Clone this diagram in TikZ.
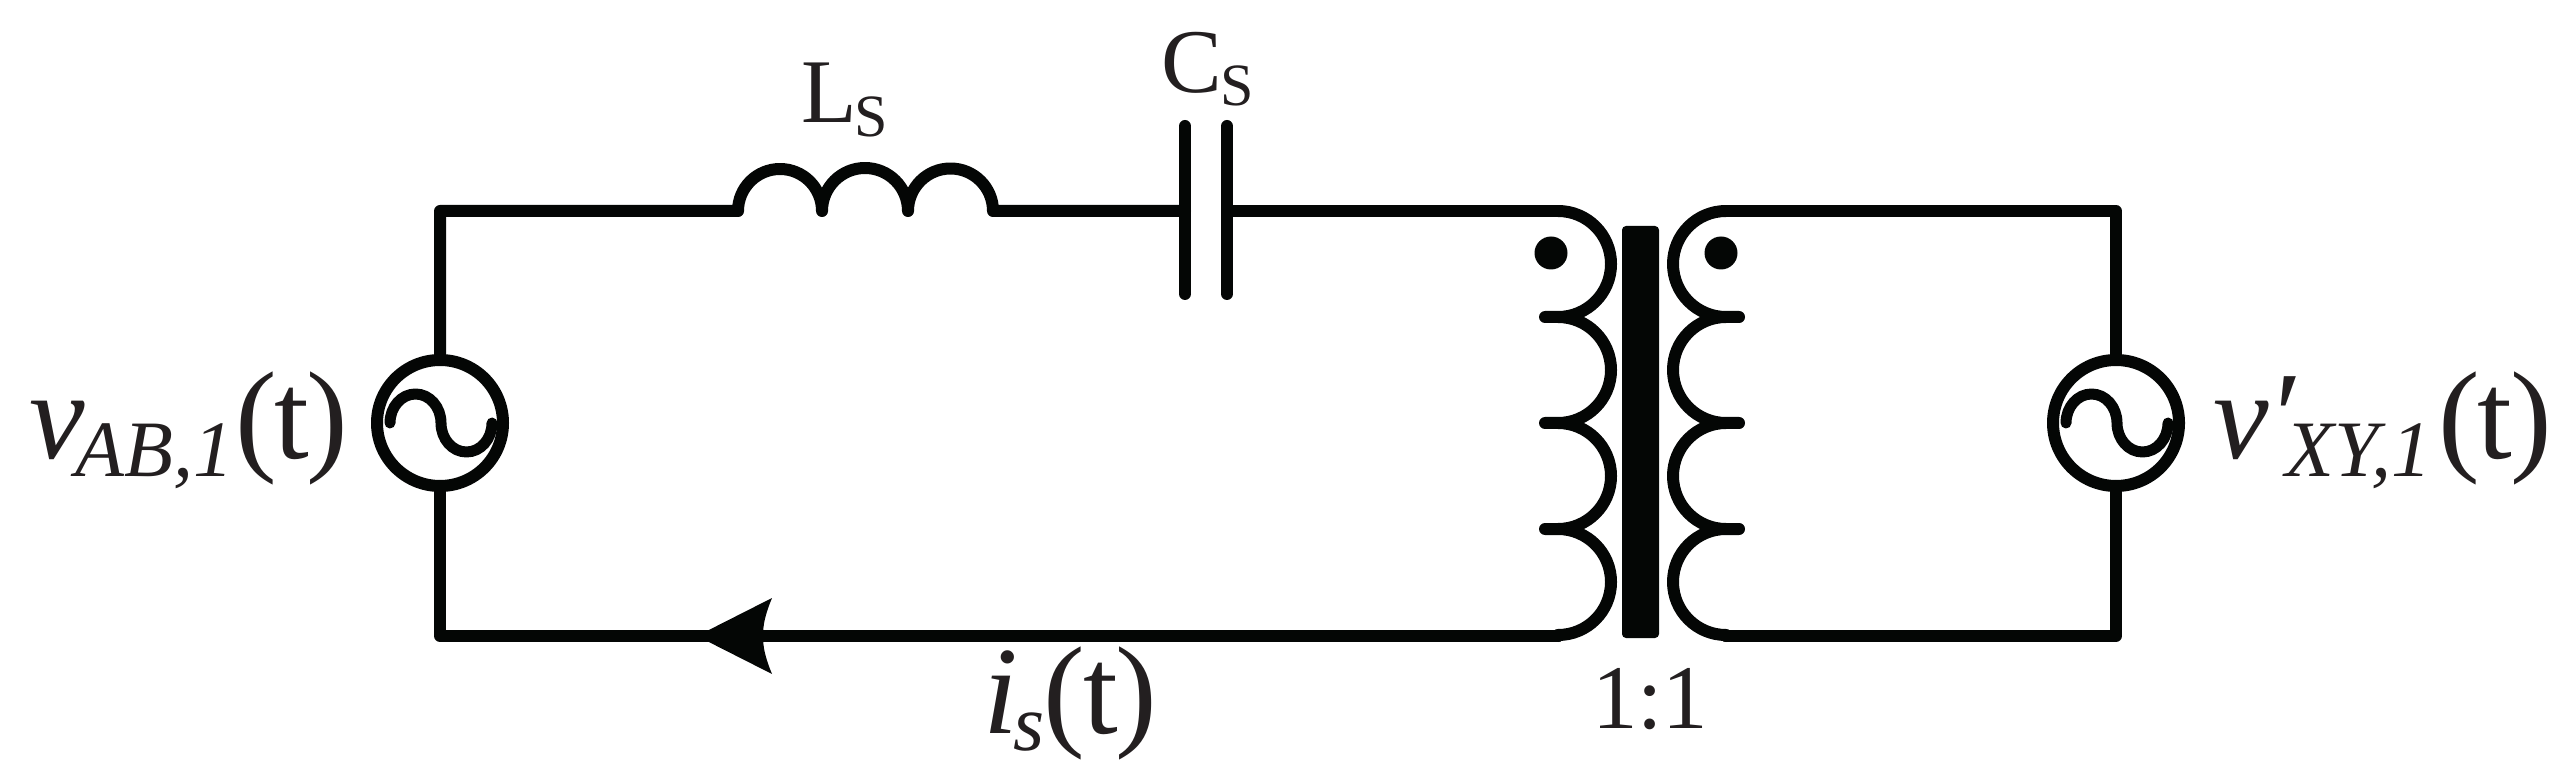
\documentclass[tikz,border=0pt]{standalone}
\usepackage{fontspec}
\setmainfont{Liberation Serif}
\definecolor{ink}{HTML}{040605}
\definecolor{txt}{HTML}{231F20}
\newcommand{\szBig}{\fontsize{125}{125}\selectfont}
\newcommand{\szSub}{\fontsize{80}{80}\selectfont}
\newcommand{\szMid}{\fontsize{91}{91}\selectfont}
\newcommand{\szSmall}{\fontsize{60}{60}\selectfont}
\newcommand{\dropped}[2]{\raisebox{-#1pt}{\szSub\itshape #2}}
\newcommand{\oft}{\upshape (\kern-2.5pt t\kern-2.5pt )}
\tikzset{
  x=1pt,y=1pt,
  wire/.style={draw=ink,line width=12pt,line cap=round,line join=round},
  thinwire/.style={draw=ink,line width=11pt,line cap=round,line join=round},
  source/.style={circle,draw=ink,line width=12pt,minimum size=126pt,inner sep=0pt,outer sep=0pt},
  dotmark/.style={circle,fill=ink,minimum size=33pt,inner sep=0pt,outer sep=0pt},
  label/.style={anchor=base west,inner sep=0pt,outer sep=0pt,text=txt},
  acwave/.pic={\draw[thinwire] (-50,0) arc[start angle=180,end angle=0,x radius=25.5,y radius=29]
     arc[start angle=180,end angle=360,x radius=25.5,y radius=29];}
}
\begin{document}
\begin{tikzpicture}
\useasboundingbox (0,0) rectangle (2558,777);
\coordinate (tl) at (440,566);
\coordinate (bl) at (440,141);
\coordinate (tr) at (2116,566);
\coordinate (br) at (2116,141);
\coordinate (ind) at (738,566);
\coordinate (indend) at (993,566);
\coordinate (c1) at (1185,566);
\coordinate (c2) at (1227,566);
\coordinate (lt) at (1558,566);
\coordinate (lb) at (1558,141);
\coordinate (rt) at (1726,566);
\coordinate (rb) at (1726,141);
\node[source] (srcL) at (440,354) {};
\node[source] (srcR) at (2116,354) {};
\pic at (srcL.center) {acwave};
\pic at (srcR.center) {acwave};
\draw[wire] (srcL.north) -- (tl) -- (ind)
  arc[start angle=180,end angle=0,radius=42]
  arc[start angle=180,end angle=0,radius=43]
  arc[start angle=180,end angle=0,radius=42.5] -- (indend) -- (c1);
\draw[wire] (c1 |- 0,651) -- (c1 |- 0,483);
\draw[wire] (c2 |- 0,651) -- (c2 |- 0,483);
\draw[wire] (c2) -- (lt);
\draw[wire] (srcL.south) -- (bl) -- (lb);
\draw[wire] (lt) arc[start angle=90,end angle=-90,radius=53] -- +(-13,0) -- +(0,0)
  arc[start angle=90,end angle=-90,radius=53] -- +(-13,0) -- +(0,0)
  arc[start angle=90,end angle=-90,radius=53] -- +(-13,0) -- +(0,0)
  arc[start angle=90,end angle=-90,radius=53] -- (lb);
\draw[wire] (rt) arc[start angle=90,end angle=270,radius=53] -- +(13,0) -- +(0,0)
  arc[start angle=90,end angle=270,radius=53] -- +(13,0) -- +(0,0)
  arc[start angle=90,end angle=270,radius=53] -- +(13,0) -- +(0,0)
  arc[start angle=90,end angle=270,radius=53] -- (rb);
\draw[wire] (rt) -- (tr) -- (srcR.north);
\draw[wire] (rb) -- (br) -- (srcR.south);
\fill[ink,rounded corners=4pt] (1622,139) rectangle (1659,551);
\node[dotmark] (dotL) at (1551,524) {};
\node[dotmark] (dotR) at (1721,524) {};
\fill[ink] (697,141) -- (772,179) .. controls (765,162) and (763,152) .. (763,141)
  .. controls (763,130) and (765,120) .. (772,103) -- cycle;
\node[label,font=\szBig] (vab) at (29,318) {\itshape v\kern-9pt\dropped{18}{AB,1}\kern2pt\oft};
\node[label,font=\szBig] (vxy) at (2213,318) {\itshape v\kern-1pt ′\kern-9pt\dropped{18}{XY,1}\kern7pt\oft};
\node[label,font=\szBig] (is) at (983,44) {\itshape i\kern-4pt\dropped{17}{s}\kern-1pt\oft};
\node[label,font=\szMid] (ls) at (801,654) {L\kern-2pt\raisebox{-14pt}{\szSmall S}};
\node[label,font=\szMid] (cs) at (1161,684) {C\kern-1pt\raisebox{-13pt}{\szSmall S}};
\node[label,font=\szMid] (ratio) at (1592,49) {1:1};
\end{tikzpicture}
\end{document}
